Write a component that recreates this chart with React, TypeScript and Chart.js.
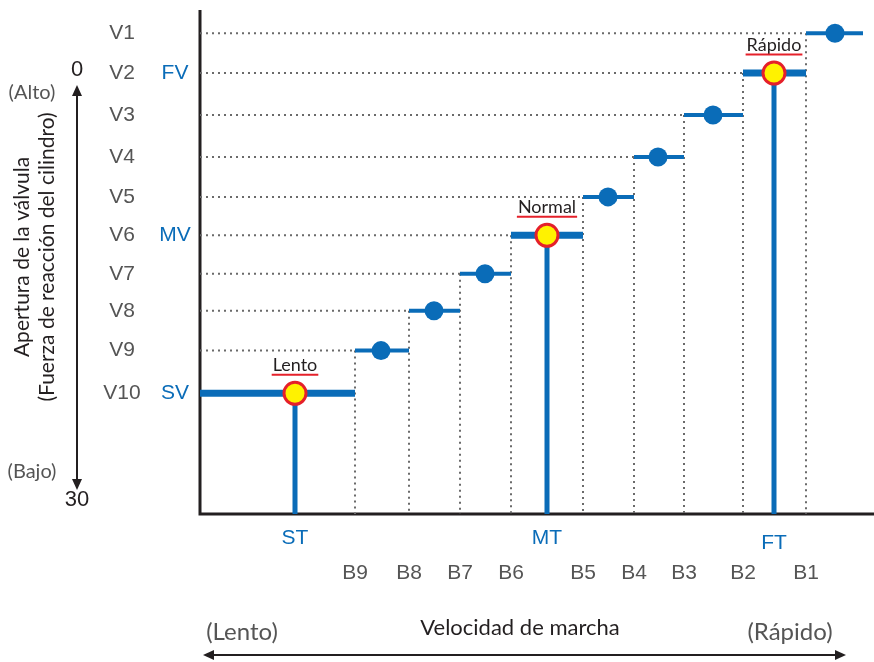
import React, { useEffect, useRef } from 'react';
import { Chart, registerables } from 'chart.js';

Chart.register(...registerables);

// Valve opening levels, read on the 0 (high) … 30 (low) opening axis
const valveLevels = ['V1', 'V2', 'V3', 'V4', 'V5', 'V6', 'V7', 'V8', 'V9', 'V10'];
const valveOpening = [-2.8, 0, 2.95, 5.9, 8.7, 11.4, 14.1, 16.7, 19.5, 22.5];
// Speed bands (slow → fast)
const speedBands = ['B9', 'B8', 'B7', 'B6', 'B5', 'B4', 'B3', 'B2', 'B1'];
// step edges on the speed axis; step i (V10 … V1) spans stepEdges[i]..stepEdges[i+1]
const stepEdges = [0, 155, 209, 260, 311, 383, 434, 484, 543, 606, 663];
// marker position on each step (V10 … V1)
const stepMarks = [95, 181, 234, 285, 347, 408, 458, 513, 574, 635];
const selectedLevels = ['V10', 'V6', 'V2'];
const selectedNames = ['Lento', 'Normal', 'Rápido'];
const selectedValveTags = ['SV', 'MV', 'FV'];
const selectedSpeedTags = ['ST', 'MT', 'FT'];
const openingTicks = ['0', '30'];
const openingTickValues = [0, 30];

const SPEED_MIN = 0;
const SPEED_MAX = 674;
const OPEN_MIN = -4.43;
const OPEN_MAX = 30.98;

const BLUE = '#0a6cb8';
const YELLOW = '#fff200';
const RED = '#e5202a';
const DOT = '#6a6a6a';
const GRAY = '#555555';

function arrowHead(ctx: CanvasRenderingContext2D, x: number, y: number, dx: number, dy: number) {
  const len = 11;
  const half = 5;
  const px = -dy, py = dx;
  ctx.beginPath();
  ctx.moveTo(x, y);
  ctx.lineTo(x - dx * len + px * half, y - dy * len + py * half);
  ctx.lineTo(x - dx * len - px * half, y - dy * len - py * half);
  ctx.closePath();
  ctx.fill();
}

export default function App() {
  const ref = useRef<HTMLCanvasElement | null>(null);

  useEffect(() => {
    const canvas = ref.current;
    if (!canvas) return;

    const datasets: any[] = [];
    const n = valveLevels.length;

    for (let i = 0; i < n; i++) {
      const li = n - 1 - i;
      const y = valveOpening[li];
      const sel = selectedLevels.includes(valveLevels[li]);
      // step segment
      datasets.push({
        type: 'scatter',
        showLine: true,
        data: [{ x: stepEdges[i], y }, { x: stepEdges[i + 1], y }],
        borderColor: BLUE,
        backgroundColor: BLUE,
        borderWidth: sel ? 7 : 4,
        borderCapStyle: 'butt',
        pointRadius: 0,
        order: 3,
      });
      if (i > 0) {
        // dotted guide from the opening axis
        datasets.push({
          type: 'scatter',
          showLine: true,
          data: [{ x: SPEED_MIN, y }, { x: stepEdges[i], y }],
          borderColor: DOT,
          borderWidth: 2,
          borderDash: [2, 4],
          borderCapStyle: 'butt',
          pointRadius: 0,
          order: 6,
        });
        // dotted guide down to the speed axis
        datasets.push({
          type: 'scatter',
          showLine: true,
          data: [{ x: stepEdges[i], y }, { x: stepEdges[i], y: OPEN_MAX }],
          borderColor: DOT,
          borderWidth: 2,
          borderDash: [2, 4],
          borderCapStyle: 'butt',
          pointRadius: 0,
          order: 6,
        });
      }
      if (sel) {
        datasets.push({
          type: 'scatter',
          showLine: true,
          data: [{ x: stepMarks[i], y }, { x: stepMarks[i], y: OPEN_MAX }],
          borderColor: BLUE,
          borderWidth: 5,
          borderCapStyle: 'butt',
          pointRadius: 0,
          order: 2,
        });
      }
    }

    const plainDots: any[] = [];
    const selDots: any[] = [];
    for (let i = 0; i < n; i++) {
      const li = n - 1 - i;
      const pt = { x: stepMarks[i], y: valveOpening[li] };
      if (selectedLevels.includes(valveLevels[li])) selDots.push(pt);
      else plainDots.push(pt);
    }
    datasets.push({
      type: 'scatter',
      data: plainDots,
      backgroundColor: BLUE,
      borderColor: BLUE,
      borderWidth: 0,
      pointRadius: 9.5,
      order: 1,
    });
    datasets.push({
      type: 'scatter',
      data: selDots,
      backgroundColor: YELLOW,
      borderColor: RED,
      borderWidth: 3,
      pointRadius: 11,
      order: 0,
    });

    const decor = {
      id: 'decor',
      beforeDatasetsDraw(chart: any) {
        const { ctx, chartArea } = chart;
        ctx.save();
        ctx.strokeStyle = '#231f20';
        ctx.lineWidth = 3;
        ctx.beginPath();
        ctx.moveTo(chartArea.left, chartArea.top);
        ctx.lineTo(chartArea.left, chartArea.bottom);
        ctx.lineTo(chartArea.right, chartArea.bottom);
        ctx.stroke();
        ctx.restore();
      },
      afterDatasetsDraw(chart: any) {
        const { ctx } = chart;
        const xs = chart.scales.x;
        const ys = chart.scales.y;
        ctx.save();
        ctx.textAlign = 'center';
        ctx.textBaseline = 'middle';

        // valve level labels
        ctx.font = '21px "Liberation Sans", Arial, sans-serif';
        ctx.fillStyle = GRAY;
        valveLevels.forEach((lab, i) => {
          ctx.fillText(lab, 122, ys.getPixelForValue(valveOpening[i]));
        });
        ctx.fillStyle = BLUE;
        selectedLevels.forEach((lv, k) => {
          const i = valveLevels.indexOf(lv);
          ctx.fillText(selectedValveTags[k], 175, ys.getPixelForValue(valveOpening[i]));
        });

        // speed band labels
        ctx.fillStyle = GRAY;
        speedBands.forEach((lab, k) => {
          ctx.fillText(lab, xs.getPixelForValue(stepEdges[k + 1]), 573);
        });
        ctx.fillStyle = BLUE;
        selectedLevels.forEach((lv, k) => {
          const li = valveLevels.indexOf(lv);
          const i = n - 1 - li;
          ctx.fillText(selectedSpeedTags[k], xs.getPixelForValue(stepMarks[i]), k === 2 ? 543 : 538);
        });

        // selected point captions
        ctx.font = '18px Lato, "Open Sans", sans-serif';
        selectedLevels.forEach((lv, k) => {
          const li = valveLevels.indexOf(lv);
          const i = n - 1 - li;
          const px = xs.getPixelForValue(stepMarks[i]);
          const py = ys.getPixelForValue(valveOpening[li]);
          ctx.fillStyle = '#231f20';
          ctx.fillText(selectedNames[k], px, py - 28);
          const w = ctx.measureText(selectedNames[k]).width;
          ctx.strokeStyle = RED;
          ctx.lineWidth = 2;
          ctx.beginPath();
          ctx.moveTo(px - w / 2 - 1, py - 18.5);
          ctx.lineTo(px + w / 2 + 1, py - 18.5);
          ctx.stroke();
        });

        // opening axis scale (0 … 30)
        ctx.font = '22px "Liberation Sans", Arial, sans-serif';
        ctx.fillStyle = '#231f20';
        openingTicks.forEach((t, k) => {
          ctx.fillText(t, 77, ys.getPixelForValue(openingTickValues[k]) - (k === 0 ? 3 : 0));
        });
        ctx.strokeStyle = '#231f20';
        ctx.lineWidth = 2;
        const aTop = ys.getPixelForValue(0) + 12;
        const aBot = ys.getPixelForValue(30) - 10;
        ctx.beginPath();
        ctx.moveTo(77, aTop + 6);
        ctx.lineTo(77, aBot - 6);
        ctx.stroke();
        arrowHead(ctx, 77, aTop, 0, -1);
        arrowHead(ctx, 77, aBot, 0, 1);

        ctx.font = '20px Lato, "Open Sans", sans-serif';
        ctx.fillStyle = GRAY;
        ctx.fillText('(Alto)', 32, 93);
        ctx.fillText('(Bajo)', 32, 472);

        // rotated opening axis title
        ctx.save();
        ctx.translate(22, 257);
        ctx.rotate(-Math.PI / 2);
        ctx.font = '21px Lato, "Open Sans", sans-serif';
        ctx.fillStyle = '#231f20';
        ctx.fillText('Apertura de la válvula', 0, 0);
        ctx.fillText('(Fuerza de reacción del cilindro)', 0, 25);
        ctx.restore();

        // speed axis title
        ctx.font = '22px Lato, "Open Sans", sans-serif';
        ctx.fillStyle = '#231f20';
        ctx.fillText('Velocidad de marcha', 520, 628);
        ctx.fillStyle = GRAY;
        ctx.font = '24px Lato, "Open Sans", sans-serif';
        ctx.fillText('(Lento)', 242, 632);
        ctx.fillText('(Rápido)', 790, 632);
        ctx.strokeStyle = '#231f20';
        ctx.fillStyle = '#231f20';
        ctx.lineWidth = 2;
        ctx.beginPath();
        ctx.moveTo(208, 655);
        ctx.lineTo(841, 655);
        ctx.stroke();
        arrowHead(ctx, 203, 655, -1, 0);
        arrowHead(ctx, 846, 655, 1, 0);

        ctx.restore();
      },
    };

    const chart = new Chart(canvas, {
      type: 'scatter',
      data: { datasets },
      options: {
        responsive: false,
        animation: false,
        devicePixelRatio: 1,
        layout: { autoPadding: false, padding: { left: 200, right: 0, top: 10, bottom: 148 } },
        plugins: { legend: { display: false }, tooltip: { enabled: false } },
        scales: {
          x: { type: 'linear', min: SPEED_MIN, max: SPEED_MAX, display: false },
          y: { type: 'linear', min: OPEN_MIN, max: OPEN_MAX, reverse: true, display: false },
        },
      },
      plugins: [decor],
    } as any);

    return () => chart.destroy();
  }, []);

  return (
    <div style={{ position: 'fixed', left: 0, top: 0, width: 874, height: 662, background: '#fff' }}>
      <canvas ref={ref} width={874} height={662} style={{ display: 'block', width: 874, height: 662 }} />
    </div>
  );
}
